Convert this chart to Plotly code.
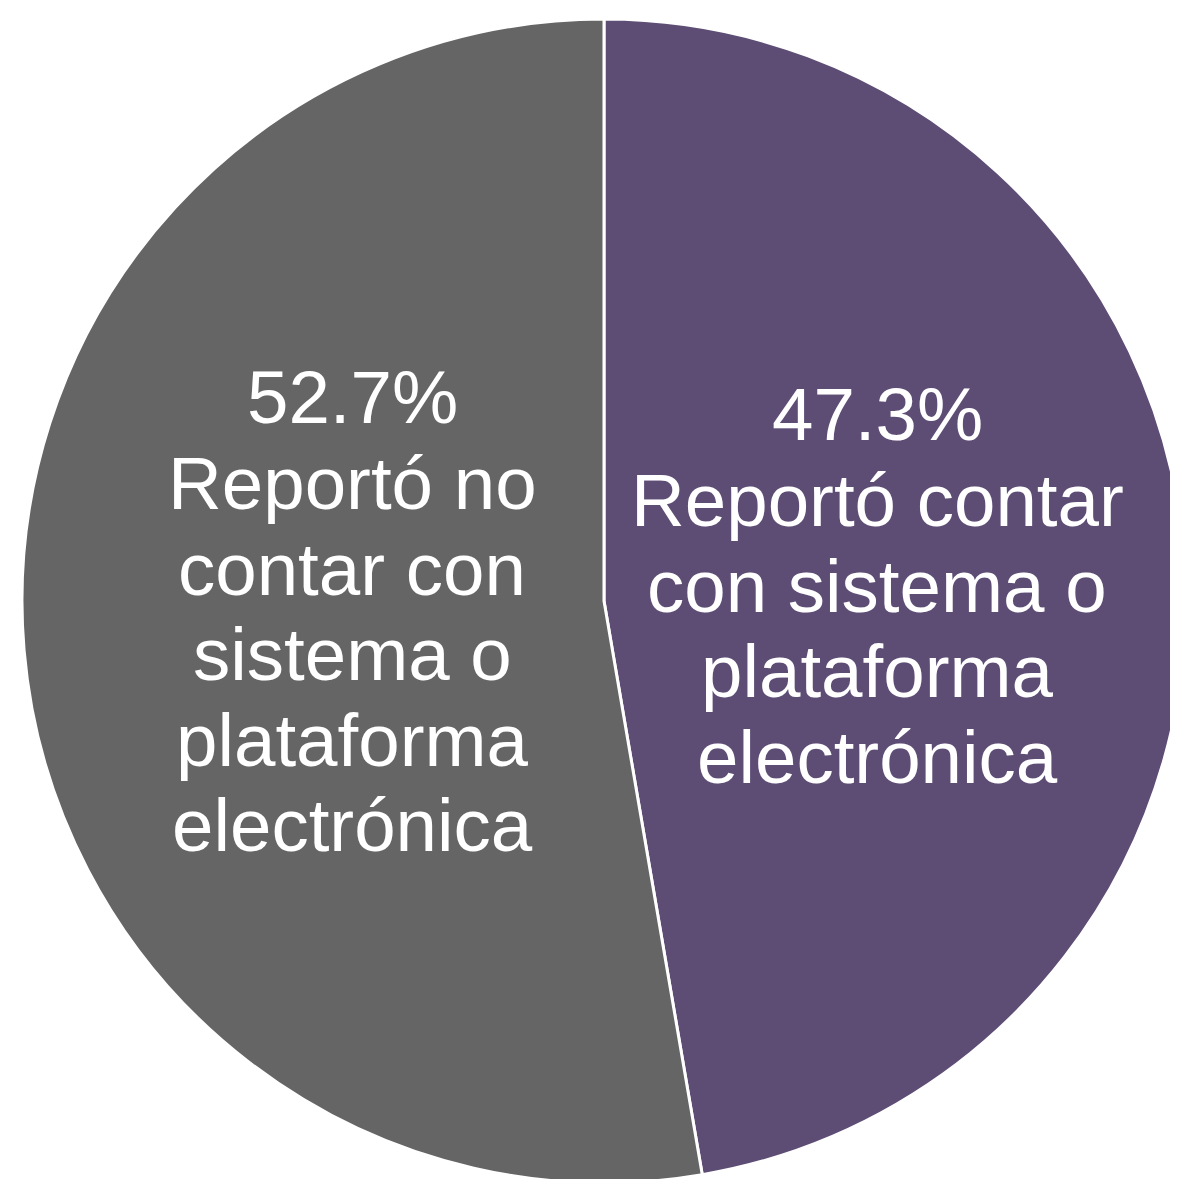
import plotly.graph_objects as go

categories = ["Reportó contar con sistema o plataforma electrónica",
              "Reportó no contar con sistema o plataforma electrónica"]
label_lines = [["Reportó contar", "con sistema o", "plataforma", "electrónica"],
               ["Reportó no", "contar con", "sistema o", "plataforma", "electrónica"]]
values = [47.3, 52.7]
colors = ["#5d4d75", "#656565"]

W, H = 1178, 1179
OFF = 8  # page body margin

fig = go.Figure(go.Pie(
    labels=categories,
    values=values,
    sort=False,
    direction="clockwise",
    rotation=0,
    marker=dict(colors=colors, line=dict(color="white", width=3)),
    textinfo="none",
    hoverinfo="label+percent",
    showlegend=False,
    domain=dict(x=[14 / W, 1.0], y=[1 - 1175 / H, 1 - 11 / H]),
))

# label block: centre x and y of first line (page pixels), line pitch
label_pos = [(877, 415), (352, 398)]
pitch = 85.5
for (px, py), v, lines in zip(label_pos, values, label_lines):
    all_lines = [f"{v:.1f}%"] + lines
    for i, ln in enumerate(all_lines):
        yy = py + i * pitch - OFF
        fig.add_annotation(
            x=(px - OFF) / W, y=1 - yy / H, xref="paper", yref="paper",
            xanchor="center", yanchor="middle",
            text=ln, showarrow=False,
            font=dict(family="Liberation Sans, Arial, sans-serif", size=74.5, color="white"),
            align="center",
        )

fig.update_layout(
    width=W, height=H,
    margin=dict(l=0, r=0, t=0, b=0),
    paper_bgcolor="white",
    plot_bgcolor="white",
)

fig.write_html("out.html")
